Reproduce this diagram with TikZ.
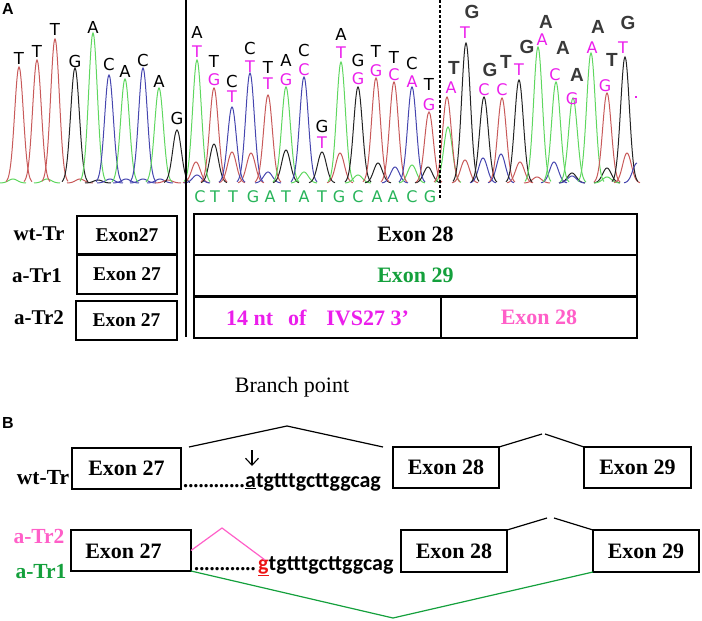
\documentclass[tikz,border=0pt]{standalone}
\usepackage{fontspec}
\setmainfont{Liberation Serif}
\newfontfamily\sansf{Liberation Sans}
\newfontfamily\dvs{DejaVu Sans}
\newfontfamily\calib{Carlito}
\usetikzlibrary{arrows.meta,calc}
\definecolor{tR}{RGB}{200,90,90}
\definecolor{aG}{RGB}{95,215,95}
\definecolor{cB}{RGB}{70,70,175}
\definecolor{gK}{RGB}{35,35,35}
\definecolor{mag}{RGB}{235,30,235}
\definecolor{pinkx}{RGB}{255,95,200}
\definecolor{grn}{RGB}{20,160,60}
\definecolor{seqg}{RGB}{40,180,90}
\definecolor{redg}{RGB}{235,20,20}
\begin{document}
\begin{tikzpicture}[x=1pt,y=-1pt,
  trace/.style={line width=1pt},
  blk/.style={inner sep=0pt,font=\dvs\fontsize{16.5}{16.5}\selectfont,text=black},
  blkb/.style={inner sep=0pt,font=\sansf\bfseries\fontsize{19}{19}\selectfont,text=gK!90},
  magl/.style={inner sep=0pt,font=\dvs\fontsize{16}{16}\selectfont,text=mag},
  seql/.style={inner sep=0pt,font=\dvs\fontsize{16}{16}\selectfont,text=seqg},
  rowlab/.style={inner sep=0pt,font=\bfseries\fontsize{21}{21}\selectfont},
  exbox/.style={draw,line width=1.3pt,inner sep=0pt,outer sep=0pt,font=\bfseries\fontsize{22}{22}\selectfont},
  spl/.style={line width=1.2pt}]
\useasboundingbox (0,0) rectangle (702,621);
% ---------------- chromatogram traces
\foreach \px/\pt/\pc in {
  13/179/aG,47/179/aG,80/179/tR,98/180/gK,110/179/cB,126/179/cB,143/179/cB,160/179/cB,168/180/tR,
  19/67/tR,37/60/tR,55/39/tR,75/68/gK,93/33/aG,109/75/cB,125/79/aG,143/68/cB,159/88/aG,177/130/gK,
  196/162/tR,197/175/cB,214/144/gK,232/152/tR,251/153/tR,268/172/cB,286/150/gK,304/172/aG,
  340/153/tR,358/175/aG,378/163/gK,395/167/cB,412/165/aG,428/167/gK,
  197/60/aG,214/88/tR,232/107/cB,250/73/cB,268/95/tR,286/87/aG,304/77/cB,322/152/gK,341/62/aG,358/87/gK,376/78/tR,394/82/tR,412/87/cB,429/112/tR,
  448/127/aG,465/160/tR,483/158/cB,501/154/cB,520/162/tR,537/177/tR,554/162/cB,572/173/gK,572/176/cB,607/168/gK,607/177/aG,627/153/tR,
  447/97/tR,466/43/gK,484/97/gK,502/98/tR,519/80/gK,538/47/aG,556/82/aG,573/98/aG,591/53/aG,607/93/tR,625/57/gK}
  { \draw[\pc,trace] plot[domain=-13:13,samples=27,smooth] ({\px+\x},{183-(183-\pt)*exp(-(\x*\x)/38)}); }
\draw[cB,trace] plot[domain=-13:0,samples=14,smooth] ({637+\x},{183-20*exp(-(\x*\x)/38)});
\fill[mag] (635,96) rectangle (637,98);
% ---------------- base calls
\foreach \lx/\ly/\lt [count=\i] in {19/58/T,37/51/T,55/29/T,75/61/G,93/27/A,109/64/C,125/71/A,143/60/C,159/81/A,177/118/G,
  197/32/A,214/61/T,232/81/C,250/48/C,268/67/T,286/60/A,304/50/C,322/126/G,341/34/A,358/60/G,376/51/T,394/57/T,412/63/C,429/84/T}
  \node[blk] (k\i) at (\lx,\ly) {\lt};
\foreach \lx/\ly/\lt [count=\i] in {197/52/T,214/80/G,232/97/T,250/67/T,268/84/T,286/80/G,304/70/C,322/143/T,341/53/T,358/79/G,376/71/G,394/75/C,412/82/A,429/105/G,
  451/88/A,465/33/T,484/90/C,502/90/C,519/70/T,542/40/A,555/75/C,572/99/G,592/48/A,605/86/G,623/48/T}
  \node[magl] (m\i) at (\lx,\ly) {\lt};
\foreach \lx/\ly/\lt [count=\i] in {454/68/T,472/12/G,490/70/G,506/62/T,527/47/G,546/22/A,563/48/A,577/75/A,598/27/A,612/60/T,628/23/G}
  \node[blkb] (n\i) at (\lx,\ly) {\lt};
\foreach \lx/\lt [count=\i] in {200/C,215/T,233/T,253/G,270/A,286/T,304/A,322/T,339/G,358/C,377/A,393/A,412/C,430/G}
  \node[seql] (s\i) at (\lx,197) {\lt};
% ---------------- dividers
\coordinate (vtop) at (186,0); \coordinate (vbot) at (186,337);
\draw[line width=1.3pt] (vtop) -- (vbot);
\coordinate (dtop) at (440,0); \coordinate (dbot) at (440,198);
\draw[line width=1.4pt,dash pattern=on 3pt off 2pt] (dtop) -- (dbot);
\node[inner sep=0pt,font=\sansf\bfseries\fontsize{16}{16}\selectfont] (labA) at (8,9) {A};
% ---------------- panel A rows
\node[rowlab] (wtA) at (39,234) {wt-Tr};
\node[rowlab] (t1A) at (37,276) {a-Tr1};
\node[rowlab] (t2A) at (39,318) {a-Tr2};
\node[exbox,minimum width=100,minimum height=38,font=\bfseries\fontsize{19.5}{19.5}\selectfont] (e27w) at (127,235) {Exon27};
\node[exbox,minimum width=100,minimum height=39,font=\bfseries\fontsize{19.5}{19.5}\selectfont] (e27t1) at (127,274.5) {Exon 27};
\node[exbox,minimum width=101,minimum height=39,font=\bfseries\fontsize{19.5}{19.5}\selectfont] (e27t2) at (126.5,320.5) {Exon 27};
\node[exbox,minimum width=443,minimum height=41] (e28w) at (415.5,234.5) {Exon 28};
\node[exbox,minimum width=443,minimum height=41,text=grn] (e29t1) at (415.5,275.5) {Exon 29};
\node[exbox,minimum width=247,minimum height=41,text=mag] (ivs) at (317.5,317.5) {14 nt\hspace{15pt}of\hspace{20pt}IVS27 3’};
\node[exbox,minimum width=196,minimum height=41,text=pinkx,font=\fontsize{22}{22}\selectfont\bfseries] (e28t2) at (539,317.5) {Exon 28};
% ---------------- panel B
\node[inner sep=0pt,font=\fontsize{22}{22}\selectfont] (bp) at (292,387) {Branch point};
\node[inner sep=0pt,font=\sansf\bfseries\fontsize{16}{16}\selectfont] (labB) at (8,423) {B};
\node[rowlab,font=\bfseries\fontsize{21.5}{21.5}\selectfont] (wtB) at (43,478) {wt-Tr};
\node[exbox,minimum width=109,minimum height=41] (e27b) at (126.5,468.5) {Exon 27};
\node[exbox,minimum width=106,minimum height=41] (e28b) at (446,467.5) {Exon 28};
\node[exbox,minimum width=107,minimum height=41] (e29b) at (637.5,467.5) {Exon 29};
\node[anchor=base west,inner sep=0pt,font=\bfseries\fontsize{20.5}{20.5}\selectfont] (dotsB) at (183,487) {............};
\node[anchor=base west,inner sep=0pt,font=\calib\bfseries\fontsize{22}{22}\selectfont] (seqB) at (245,487) {\underline{a}tgtttgcttggcag};
\coordinate (arrtop) at (252,450); \coordinate (arrbot) at (252,466);
\draw[line width=1.1pt,-{Straight Barb[length=7pt,width=13pt,line width=1.1pt]}] (arrtop) -- (arrbot);
\coordinate (apx1) at (287,426);
\draw[spl] ($(e27b.north east)+(8,-1)$) -- (apx1) -- ($(e28b.north west)+(-10,0)$);
\coordinate (apx2a) at (542,434); \coordinate (apx2b) at (545,434);
\draw[spl] (e28b.north east) -- (apx2a);
\draw[spl] (apx2b) -- (e29b.north west);
% lower rows
\node[rowlab,font=\bfseries\fontsize{21.5}{21.5}\selectfont,text=pinkx] (t2B) at (39,536) {a-Tr2};
\node[rowlab,font=\bfseries\fontsize{21.5}{21.5}\selectfont,text=grn] (t1B) at (41,572) {a-Tr1};
\node[exbox,minimum width=120,minimum height=41] (e27c) at (131,550.5) {};
\node[inner sep=0pt,font=\bfseries\fontsize{22}{22}\selectfont] (e27ct) at (123.5,551) {Exon 27};
\node[exbox,minimum width=106,minimum height=42] (e28c) at (454,551) {Exon 28};
\node[exbox,minimum width=106,minimum height=42] (e29c) at (646,551) {Exon 29};
\node[anchor=base west,inner sep=0pt,font=\bfseries\fontsize{20.5}{20.5}\selectfont] (dotsC) at (194,570) {............};
\node[anchor=base west,inner sep=0pt,font=\calib\bfseries\fontsize{22}{22}\selectfont] (seqC) at (258,570) {\textcolor{redg}{\underline{g}}tgtttgcttggcag};
\coordinate (papx) at (222,528); \coordinate (pend) at (265,560);
\draw[pinkx,line width=1.2pt] (e27c.east) -- (papx) -- (pend);
\coordinate (apx3a) at (547,518); \coordinate (apx3b) at (554,518);
\draw[spl] (e28c.north east) -- (apx3a);
\draw[spl] (apx3b) -- (e29c.north west);
\coordinate (gapx) at (393,618);
\draw[grn,line width=1.2pt] (e27c.south east) -- (gapx) -- (e29c.south west);
\end{tikzpicture}
\end{document}
